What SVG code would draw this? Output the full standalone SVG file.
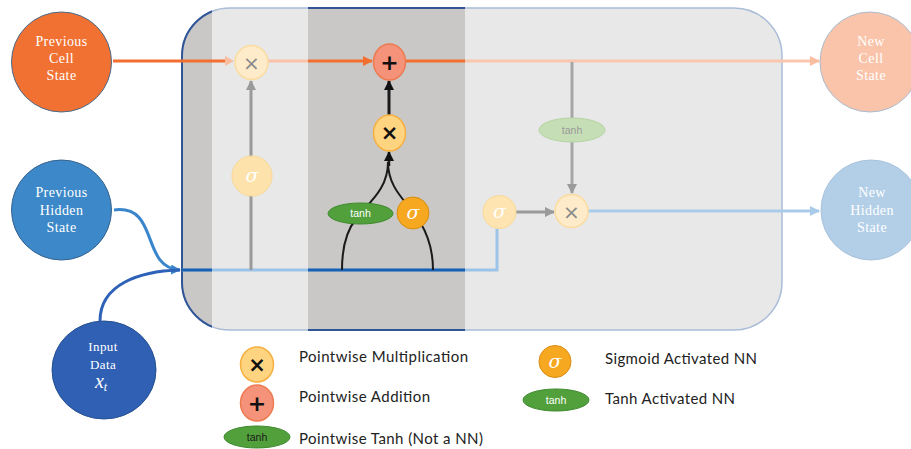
<svg xmlns="http://www.w3.org/2000/svg" width="911" height="449" viewBox="0 0 911 449">
<style>
.nodeText{font-family:"Liberation Serif","Times New Roman",serif;font-size:14px;fill:#ffffff;text-anchor:middle;letter-spacing:0.4px}
.sym{font-family:"DejaVu Sans","Liberation Sans",sans-serif;text-anchor:middle;dominant-baseline:central}
.sig{font-family:"DejaVu Serif","Liberation Serif",serif;font-style:italic;font-size:19px;fill:#ffffff;text-anchor:middle;dominant-baseline:central}
.tanh{font-family:"Liberation Sans",Arial,sans-serif;font-size:10.5px;text-anchor:middle;dominant-baseline:central}
.leg{font-family:"Lato","Liberation Sans",sans-serif;font-size:15px;fill:#222222}
.ln{fill:none;stroke-width:3}
</style>
<defs>
<clipPath id="cellClip"><rect x="182" y="8" width="600" height="322" rx="48"/></clipPath>
<clipPath id="darkBand"><rect x="170" y="0" width="42" height="449"/><rect x="308" y="0" width="157" height="449"/></clipPath>
<marker id="aOrange" markerUnits="userSpaceOnUse" markerWidth="10" markerHeight="10" refX="9" refY="5" orient="auto"><path d="M0,0 L10,5 L0,10 z" fill="#f26f30"/></marker>
<marker id="aPale" markerUnits="userSpaceOnUse" markerWidth="10" markerHeight="10" refX="9" refY="5" orient="auto"><path d="M0,0 L10,5 L0,10 z" fill="#f9bda0"/></marker>
<marker id="aGray" markerUnits="userSpaceOnUse" markerWidth="10" markerHeight="10" refX="9" refY="5" orient="auto"><path d="M0,0 L10,5 L0,10 z" fill="#9a9a9a"/></marker>
<marker id="aBlack" markerUnits="userSpaceOnUse" markerWidth="10" markerHeight="10" refX="9" refY="5" orient="auto"><path d="M0,0 L10,5 L0,10 z" fill="#111111"/></marker>
<marker id="aBlue" markerUnits="userSpaceOnUse" markerWidth="10" markerHeight="10" refX="9" refY="5" orient="auto"><path d="M0,0 L10,5 L0,10 z" fill="#3a86cc"/></marker>
<marker id="aLightBlue" markerUnits="userSpaceOnUse" markerWidth="10" markerHeight="10" refX="9" refY="5" orient="auto"><path d="M0,0 L10,5 L0,10 z" fill="#a9cbe9"/></marker>
</defs>

<g id="lstm-cell">
<rect x="182" y="8" width="600" height="322" rx="48" fill="#e8e8e8"/>
<g clip-path="url(#cellClip)">
<rect x="170" y="0" width="42" height="340" fill="#c9c8c7"/>
<rect x="308" y="0" width="157" height="340" fill="#c9c8c7"/>
</g>
<rect x="182" y="8" width="600" height="322" rx="48" fill="none" stroke="#a9bcd8" stroke-width="1.5"/>
<rect x="182" y="8" width="600" height="322" rx="48" fill="none" stroke="#2f5597" stroke-width="2" clip-path="url(#darkBand)"/>
</g>

<g id="connectors">
<path class="ln" d="M113,61 H226" stroke="#f26f30"/>
<path d="M225,56 L234,61 L225,66 z" fill="#f9bda0"/>
<path class="ln" d="M268,61 H308" stroke="#f9c3a8"/>
<path class="ln" d="M308,61 H372" stroke="#f26f30" marker-end="url(#aOrange)"/>
<path class="ln" d="M405,61 H465" stroke="#f26f30"/>
<path class="ln" d="M465,61 H819" stroke="#fac6ad" marker-end="url(#aPale)"/>
<path class="ln" d="M114,210 C160,204 140,268 180,270" stroke="#3a86cc" marker-end="url(#aBlue)"/>
<path class="ln" d="M100,321 C100,284 140,271 180,270" stroke="#2e62b8"/>
<path class="ln" d="M182,270 H497 V229" stroke="#9cc4e8"/>
<path class="ln" d="M182,270 H212 M308,270 H465" stroke="#1a60b0"/>
<path class="ln" d="M251,270 V81" stroke="#9a9a9a" stroke-width="2.5" marker-end="url(#aGray)"/>
<path fill="none" stroke="#1a1a1a" stroke-width="2" d="M342,270 C342,245 347,230 356,219 C368,203 388,190 388,162"/>
<path fill="none" stroke="#1a1a1a" stroke-width="2" d="M433,270 C433,250 428,235 420,222 C408,202 388,190 388,162"/>
<path fill="none" stroke="#1a1a1a" stroke-width="2.5" d="M389,166 V152" marker-end="url(#aBlack)"/>
<path fill="none" stroke="#1a1a1a" stroke-width="3" d="M389,115 V81" marker-end="url(#aBlack)"/>
<path class="ln" d="M572,62 V193" stroke="#a6a6a6" marker-end="url(#aGray)"/>
<path class="ln" d="M516,212 H554" stroke="#9a9a9a" marker-end="url(#aGray)"/>
<path class="ln" d="M588,211 H819" stroke="#a9cbe9" marker-end="url(#aLightBlue)"/>
</g>

<g id="prev-cell-state">
<circle cx="61.5" cy="62" r="50" fill="#f07131" stroke="#4a6a8a" stroke-width="1"/>
<text class="nodeText" x="61.5" y="46">Previous</text>
<text class="nodeText" x="61.5" y="63">Cell</text>
<text class="nodeText" x="61.5" y="80">State</text>
</g>
<g id="prev-hidden-state">
<circle cx="61.5" cy="210" r="50" fill="#3c88c8" stroke="#34628f" stroke-width="1"/>
<text class="nodeText" x="61.5" y="197">Previous</text>
<text class="nodeText" x="61.5" y="215">Hidden</text>
<text class="nodeText" x="61.5" y="232">State</text>
</g>
<g id="input-data">
<ellipse cx="104" cy="370" rx="52" ry="49" fill="#2f60b4" stroke="#27508f" stroke-width="1"/>
<text class="nodeText" x="103" y="351" style="font-size:13px">Input</text>
<text class="nodeText" x="103" y="369" style="font-size:13px">Data</text>
<text x="101" y="388" style="font-family:'Liberation Serif',serif;font-style:italic;font-size:20px;fill:#ffffff;text-anchor:middle">x<tspan font-size="12" dy="3">t</tspan></text>
</g>
<g id="new-cell-state">
<circle cx="870" cy="62" r="50" fill="#f9c4aa" stroke="#a9bcd0" stroke-width="1"/>
<text class="nodeText" x="871" y="46">New</text>
<text class="nodeText" x="871" y="63">Cell</text>
<text class="nodeText" x="871" y="80">State</text>
</g>
<g id="new-hidden-state">
<circle cx="871" cy="210" r="50" fill="#b3cfe8" stroke="#a9c3dc" stroke-width="1"/>
<text class="nodeText" x="872" y="197">New</text>
<text class="nodeText" x="872" y="215">Hidden</text>
<text class="nodeText" x="872" y="232">State</text>
</g>

<g id="forget-mul">
<ellipse cx="251.5" cy="62.5" rx="16.5" ry="17" fill="#fdebc9" stroke="#fbdc9e" stroke-width="1.5"/>
<text class="sym" x="251.5" y="63" font-size="20" fill="#8a8a8a">×</text>
</g>
<g id="forget-sigma">
<circle cx="252" cy="176" r="20" fill="#fde3ab" stroke="#fbd995" stroke-width="1"/>
<text class="sig" x="252" y="175">σ</text>
</g>
<g id="input-add">
<ellipse cx="389.5" cy="62" rx="16" ry="18" fill="#f4927a" stroke="#ee7a50" stroke-width="1.5"/>
<text class="sym" x="389.5" y="62" font-size="22" font-weight="bold" fill="#111111">+</text>
</g>
<g id="input-mul">
<ellipse cx="389.5" cy="133" rx="16" ry="18" fill="#ffd480" stroke="#f5b041" stroke-width="1.5"/>
<text class="sym" x="389.5" y="133" font-size="21" font-weight="bold" fill="#111111">×</text>
</g>
<g id="input-tanh">
<ellipse cx="360.5" cy="213.5" rx="32.5" ry="10.5" fill="#52a03c" stroke="#3f8a2e" stroke-width="1"/>
<text class="tanh" x="360.5" y="213" fill="#ffffff">tanh</text>
</g>
<g id="input-sigma">
<circle cx="413" cy="213" r="16" fill="#f6a821" stroke="#d98c10" stroke-width="1"/>
<text class="sig" x="413" y="212">σ</text>
</g>
<g id="output-sigma">
<circle cx="499.5" cy="212" r="16.5" fill="#fde4b1" stroke="#fad995" stroke-width="1"/>
<text class="sig" x="499.5" y="211">σ</text>
</g>
<g id="output-mul">
<circle cx="571.5" cy="211" r="16.5" fill="#fdebc9" stroke="#fbdc9e" stroke-width="1.5"/>
<text class="sym" x="571.5" y="211.5" font-size="20" fill="#8a8a8a">×</text>
</g>
<g id="output-tanh">
<ellipse cx="572" cy="130" rx="33" ry="12" fill="#c6deb6" stroke="#b5d4a2" stroke-width="1"/>
<text class="tanh" x="572" y="130" fill="#9a9a9a" font-size="11">tanh</text>
</g>

<g id="legend-mul">
<ellipse cx="257" cy="364.5" rx="16.5" ry="17.5" fill="#ffd480" stroke="#f5b041" stroke-width="1.5"/>
<text class="sym" x="257" y="365" font-size="21" font-weight="bold" fill="#111111">×</text>
<text class="leg" x="299" y="362" textLength="169" lengthAdjust="spacing">Pointwise Multiplication</text>
</g>
<g id="legend-add">
<ellipse cx="257" cy="403" rx="16.5" ry="18" fill="#f4927a" stroke="#ee7a50" stroke-width="1.5"/>
<text class="sym" x="257" y="403.5" font-size="22" font-weight="bold" fill="#111111">+</text>
<text class="leg" x="299" y="402" textLength="131" lengthAdjust="spacing">Pointwise Addition</text>
</g>
<g id="legend-ptanh">
<ellipse cx="257" cy="437" rx="33" ry="11" fill="#52a03c" stroke="#3f8a2e" stroke-width="1"/>
<text class="tanh" x="257" y="437" fill="#1a1a1a" font-size="11">tanh</text>
<text class="leg" x="299" y="444" textLength="184" lengthAdjust="spacing">Pointwise Tanh (Not a NN)</text>
</g>
<g id="legend-sigmoid">
<circle cx="555" cy="361.5" r="16" fill="#f6a821" stroke="#d98c10" stroke-width="1"/>
<text class="sig" x="555" y="360.5">σ</text>
<text class="leg" x="605" y="364" textLength="152" lengthAdjust="spacing">Sigmoid Activated NN</text>
</g>
<g id="legend-tanh">
<ellipse cx="556" cy="400" rx="33" ry="11" fill="#52a03c" stroke="#3f8a2e" stroke-width="1"/>
<text class="tanh" x="556" y="400" fill="#ffffff" font-size="11">tanh</text>
<text class="leg" x="605" y="404" textLength="130" lengthAdjust="spacing">Tanh Activated NN</text>
</g>
</svg>
